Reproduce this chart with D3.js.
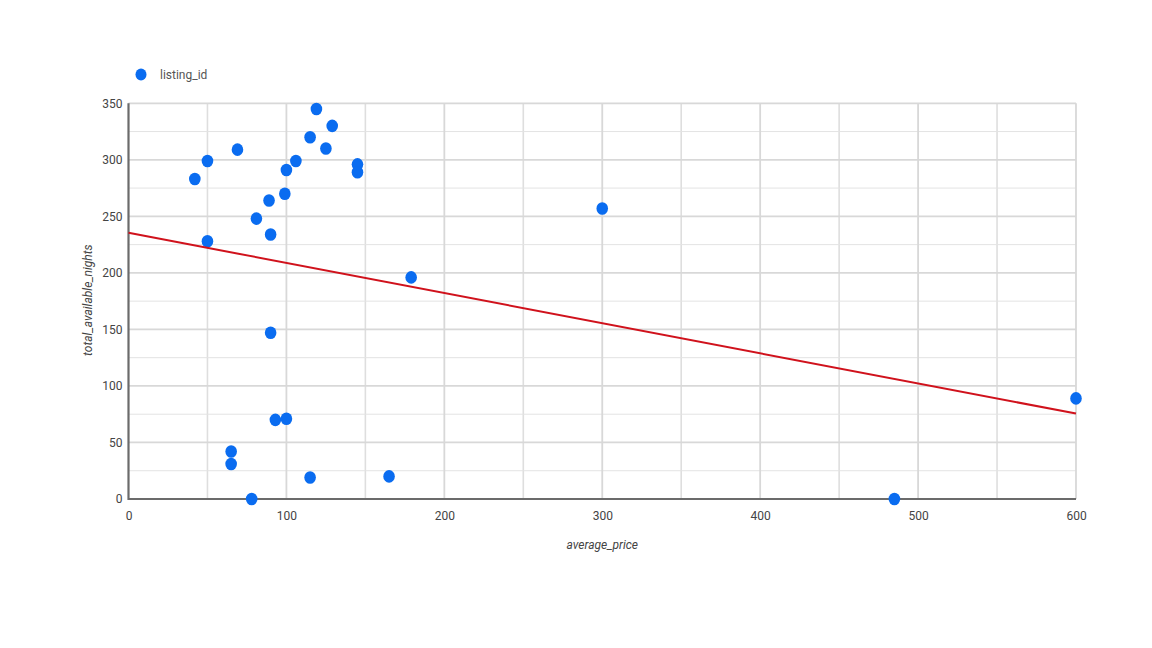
<!DOCTYPE html>
<html><head><meta charset="utf-8">
<script src="https://cdn.jsdelivr.net/npm/d3@7"></script>
<style>
html,body{margin:0;padding:0;background:#fff;}
svg{display:block;font-family:Roboto, "Liberation Sans", Arial, sans-serif;}
</style></head>
<body><svg id="c" width="1152" height="648"></svg>
<script>
const seriesName = "listing_id";
const xTitle = "average_price";
const yTitle = "total_available_nights";
const averagePrice = [42,50,69,50,81,89,90,99,100,106,115,119,125,129,145,145,179,300,90,93,100,65,65,115,165,78,485,600];
const availableNights = [283,299,309,228,248,264,234,270,291,299,320,345,310,330,296,289,196,257,147,70,71,42,31,19,20,0,0,89];
const xTicks = [0,100,200,300,400,500,600];
const yTicks = [0,50,100,150,200,250,300,350];

const svg = d3.select("#c");
const m = {left:128.5, right:1076, top:103.3, bottom:499};
const x = d3.scaleLinear().domain([0,600]).range([m.left,m.right]);
const y = d3.scaleLinear().domain([0,350]).range([m.bottom,m.top]);

const g = svg.append("g");
// minor grid
const xMinor = d3.range(50,600,100);
const yMinor = d3.range(25,350,50);
g.selectAll(".xm").data(xMinor).enter().append("line")
 .attr("x1",d=>x(d)).attr("x2",d=>x(d)).attr("y1",m.top).attr("y2",m.bottom)
 .attr("stroke","#dedede").attr("stroke-width",1.6);
g.selectAll(".ym").data(yMinor).enter().append("line")
 .attr("y1",d=>y(d)).attr("y2",d=>y(d)).attr("x1",m.left).attr("x2",m.right)
 .attr("stroke","#e3e3e3").attr("stroke-width",1);
// major grid
g.selectAll(".xM").data(xTicks.slice(1)).enter().append("line")
 .attr("x1",d=>x(d)).attr("x2",d=>x(d)).attr("y1",m.top).attr("y2",m.bottom)
 .attr("stroke","#d8d8d8").attr("stroke-width",1.8);
g.selectAll(".yM").data(yTicks.slice(1)).enter().append("line")
 .attr("y1",d=>y(d)).attr("y2",d=>y(d)).attr("x1",m.left).attr("x2",m.right)
 .attr("stroke","#d8d8d8").attr("stroke-width",1.8);

// axes lines
g.append("line").attr("x1",m.left).attr("x2",m.right).attr("y1",y(0)).attr("y2",y(0))
 .attr("stroke","#6b6b6b").attr("stroke-width",2.2);
g.append("line").attr("x1",x(0)).attr("x2",x(0)).attr("y1",m.top).attr("y2",m.bottom+1)
 .attr("stroke","#6b6b6b").attr("stroke-width",2.2);

// tick labels via axes
const xAxis = d3.axisBottom(x).tickValues(xTicks).tickSize(0).tickPadding(12).tickFormat(d3.format("d"));
const ax = svg.append("g").attr("transform",`translate(0,${m.bottom})`).call(xAxis);
ax.select(".domain").remove();
ax.selectAll("text").attr("fill","#444").attr("font-size",12).attr("font-family","Roboto, sans-serif");
const yAxis = d3.axisLeft(y).tickValues(yTicks).tickSize(0).tickPadding(6).tickFormat(d3.format("d"));
const ay = svg.append("g").attr("transform",`translate(${m.left},0)`).call(yAxis);
ay.select(".domain").remove();
ay.selectAll("text").attr("fill","#444").attr("font-size",12).attr("font-family","Roboto, sans-serif");

// titles
svg.append("text").attr("x",(m.left+m.right)/2).attr("y",549).attr("text-anchor","middle")
 .attr("font-size",12).attr("font-style","italic").attr("fill","#444").text(xTitle);
svg.append("text").attr("transform",`translate(92,${(m.top+m.bottom)/2 - 1}) rotate(-90)`).attr("text-anchor","middle")
 .attr("font-size",12).attr("font-style","italic").attr("fill","#444").text(yTitle);

// points
const pts = averagePrice.map((v,i)=>({x:v,y:availableNights[i]}));
svg.append("g").selectAll("ellipse").data(pts).enter().append("ellipse")
 .attr("cx",d=>x(d.x)).attr("cy",d=>y(d.y)).attr("rx",5.8).attr("ry",6.3).attr("fill","#0a6cf0");

// linear trendline (least squares)
const mx = d3.mean(pts,d=>d.x), my = d3.mean(pts,d=>d.y);
const sxy = d3.sum(pts,d=>(d.x-mx)*(d.y-my)), sxx = d3.sum(pts,d=>(d.x-mx)*(d.x-mx));
const slope = sxy/sxx, icpt = my - slope*mx;
const line = d3.line().x(d=>x(d)).y(d=>y(icpt+slope*d));
svg.append("path").datum([0,600]).attr("d",line).attr("stroke","#d0121c").attr("stroke-width",2).attr("fill","none");

// legend
svg.append("ellipse").attr("cx",141).attr("cy",74.5).attr("rx",5.5).attr("ry",6).attr("fill","#0a6cf0");
svg.append("text").attr("x",160).attr("y",78.5).attr("font-size",12).attr("fill","#555").text(seriesName);
</script></body></html>
